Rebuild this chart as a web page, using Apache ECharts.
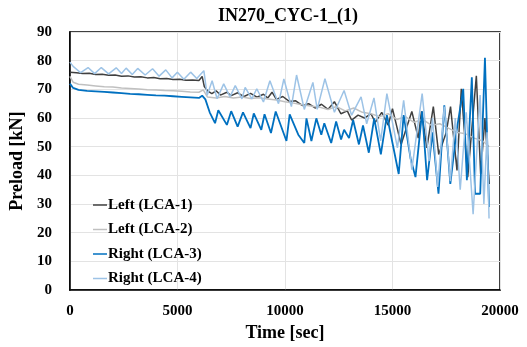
<!DOCTYPE html>
<html>
<head>
<meta charset="utf-8">
<script src="https://cdn.jsdelivr.net/npm/echarts@6/dist/echarts.min.js"></script>
<style>
  html, body { margin: 0; padding: 0; background: #fff; }
  #chart { width: 527px; height: 347px; }
</style>
</head>
<body>
<div id="chart"></div>
<script>
// Preload history of the four lower control arm bolts
const seriesNames = ['Left (LCA-1)', 'Left (LCA-2)', 'Right (LCA-3)', 'Right (LCA-4)'];
const yTicks = [0, 10, 20, 30, 40, 50, 60, 70, 80, 90];
const xTicks = [0, 5000, 10000, 15000, 20000];

const lca1Time = [0,300,600,900,1200,1500,1800,2100,2400,2700,3000,3300,3600,3900,4200,4500,4800,5100,5400,5700,6000,6150,6250,6400,6600,6800,7000,7300,7500,7800,8100,8400,8700,9000,9200,9400,9600,9900,10200,10500,10800,11100,11400,11700,12000,12300,12600,12900,13100,13400,13700,14000,14200,14500,14800,15000,15400,15900,16200,16350,16600,16900,17150,17500,17700,18000,18200,18500,18900,19100,19300,19500];
const lca1Load = [76,75.8,75.5,75.6,75.2,75.3,74.9,75,74.6,74.7,74.3,74.4,74,74.1,73.7,73.8,73.4,73.5,73.2,73.3,73.1,74.5,71,69.5,68.5,69.5,68,69,67.8,68.8,67.5,68.6,67.3,68.3,67,69,66.5,67.5,65.8,66,64.4,65,63.5,64.8,63,65.7,61.5,62.5,59.3,61,60,61.5,58.5,62,57.5,63.3,50.8,62.3,53,62.3,49.6,64,47.3,55,64,41.7,70.2,39.4,74.7,40.5,60,37];

const lca2Time = [0,150,400,800,1200,1600,2000,2400,2800,3200,3600,4000,4400,4800,5200,5600,6000,6200,6400,6800,7200,7600,8000,8400,8800,9200,9600,10000,10400,10800,11200,11600,12000,12400,12800,13200,13600,14000,14400,14800,15200,15600,16000,16400,16800,17200,17600,18000,18400,18800,19200,19500];
const lca2Load = [74.5,72.5,71.8,71.5,71.2,70.9,70.8,70.5,70.3,70.1,69.9,69.8,69.6,69.5,69.3,69.1,69,69.8,67.3,67,67.5,67,67.3,66.8,67.1,66.6,66.3,65.7,65.2,64.6,64.2,63.8,63,64,62.5,63.5,62,61.5,60.5,61.5,59.5,60.5,58.5,59.5,57.5,58,56.5,55,54.5,53,52,50];

const lca3Time = [0,150,400,800,1200,1600,2000,2400,2800,3200,3600,4000,4400,4800,5200,5600,6000,6150,6300,6500,6750,6900,7300,7500,7800,8050,8400,8550,8900,9050,9350,9570,10070,10220,10620,10900,11000,11230,11460,11690,11830,12150,12380,12610,12750,12980,13170,13440,13630,13900,14150,14460,14740,15290,15520,15840,16070,16380,16610,16860,17140,17410,17690,17970,18290,18460,18690,18840,19080,19300,19490];
const lca3Load = [72,70.5,69.8,69.5,69.3,69.1,68.9,68.7,68.4,68.3,68.1,67.9,67.8,67.6,67.4,67.2,67,67.8,66.5,62,58.2,62.7,57.6,62.4,57,62,56.5,61.6,55.9,61.3,54.8,62.3,52,61.3,54.2,51.3,59.9,52,59.9,54.2,58.2,51.3,58.8,52.5,55.9,53,59.3,50.8,57.4,47.9,59.9,47.3,61,40.5,61,46,39.4,62.3,38.3,55,33.6,64.4,37,55,70.2,38.3,74.2,33.6,33.6,81,29];

const lca4Time = [0,152,500,845,1150,1460,1800,2153,2400,2614,2900,3152,3500,3844,4150,4459,4750,4998,5300,5613,5900,6229,6383,6614,6845,7152,7445,7690,8000,8150,8460,8690,9000,9300,9700,9950,10300,10540,10900,11300,11500,11860,12300,12750,13100,13540,13800,14140,14450,14740,15230,15520,15900,16380,16700,16860,17100,17410,17690,17920,18150,18430,18750,19075,19250,19400,19490];
const lca4Load = [79.5,78,75.8,77.6,75.5,77.6,75.4,77.5,75.5,77.4,75.2,77.3,75,77.2,74.6,76.8,74,76,73.5,76,73.8,76.5,67.9,73,66.7,71.9,67.4,71.3,66.7,70.7,66.7,70.2,65.6,73,65,73.6,64,75,63,72.4,63,73.7,62,69.6,61,67.4,58,67,52,68.5,49.6,66.2,42,68.5,45,60,36,64,38,60,35,62,26.5,68,30,55,25];

const seriesColors = ['#404040', '#c0c0c0', '#0070c0', '#9dc3e6'];

function pairs(times, loads) {
  return times.map((t, i) => [t, loads[i]]);
}
const seriesData = [
  pairs(lca1Time, lca1Load),
  pairs(lca2Time, lca2Load),
  pairs(lca3Time, lca3Load),
  pairs(lca4Time, lca4Load)
];

const serif = '"Liberation Serif", "Times New Roman", serif';
const chart = echarts.init(document.getElementById('chart'), null, { renderer: 'canvas' });

chart.setOption({
  animation: false,
  backgroundColor: '#ffffff',
  title: {
    text: 'IN270_CYC-1_(1)',
    left: 283,
    textAlign: 'center',
    top: 2,
    textStyle: { fontFamily: serif, fontWeight: 'bold', fontSize: 18, color: '#000' }
  },
  grid: {
    left: 67, right: 27, top: 32, bottom: 52,
    show: true, borderColor: '#000', borderWidth: 1.5, backgroundColor: 'transparent'
  },
  legend: {
    orient: 'vertical',
    left: 88,
    top: 192,
    icon: 'rect',
    itemWidth: 14,
    itemHeight: 1.5,
    itemGap: 8.5,
    data: seriesNames,
    textStyle: { fontFamily: serif, fontWeight: 'bold', fontSize: 15, color: '#000', padding: [0, 0, 0, -4], lineHeight: 16 }
  },
  xAxis: {
    type: 'value',
    min: xTicks[0],
    max: xTicks[xTicks.length - 1],
    interval: 5000,
    name: 'Time [sec]',
    nameLocation: 'middle',
    nameGap: 30,
    nameTextStyle: { fontFamily: serif, fontWeight: 'bold', fontSize: 18, color: '#000' },
    axisLine: { lineStyle: { color: '#000', width: 1.5 } },
    axisTick: { show: false },
    axisLabel: { margin: 14, fontFamily: serif, fontWeight: 'bold', fontSize: 15, color: '#000', formatter: v => String(v) },
    splitLine: { show: true, lineStyle: { color: '#e3e3e3', width: 1 } }
  },
  yAxis: {
    type: 'value',
    min: yTicks[0],
    max: yTicks[yTicks.length - 1],
    interval: 10,
    name: 'Preload [kN]',
    nameLocation: 'middle',
    nameGap: 39,
    nameTextStyle: { fontFamily: serif, fontWeight: 'bold', fontSize: 18, color: '#000' },
    axisLine: { lineStyle: { color: '#000', width: 1.5 } },
    axisTick: { show: false },
    axisLabel: { margin: 18, fontFamily: serif, fontWeight: 'bold', fontSize: 15, color: '#000', formatter: v => String(v) },
    splitLine: { show: true, lineStyle: { color: '#e3e3e3', width: 1 } }
  },
  series: seriesNames.map((name, i) => ({
    name: name,
    type: 'line',
    data: seriesData[i],
    showSymbol: false,
    symbol: 'none',
    color: seriesColors[i],
    lineStyle: { color: seriesColors[i], width: i === 2 ? 1.8 : 1.5 },
    z: 2 + i
  }))
});
</script>
</body>
</html>
